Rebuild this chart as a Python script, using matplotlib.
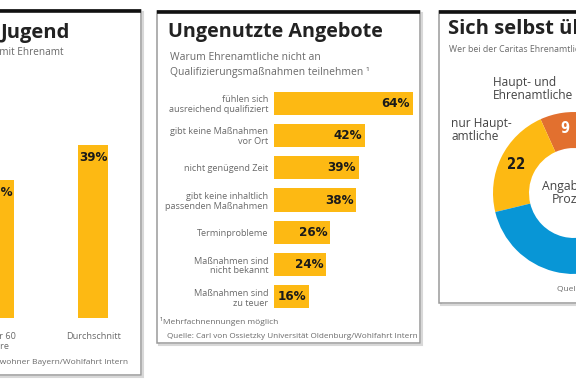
import matplotlib
matplotlib.use("Agg")
import numpy as np
import matplotlib.pyplot as plt
from matplotlib.patches import Rectangle

# === Daten ===
alter_kategorien = ["über 60\nJahre", "Durchschnitt"]
alter_werte = [31, 39]

gruende = [
    "fühlen sich\nausreichend qualifiziert",
    "gibt keine Maßnahmen\nvor Ort",
    "nicht genügend Zeit",
    "gibt keine inhaltlich\npassenden Maßnahmen",
    "Terminprobleme",
    "Maßnahmen sind\nnicht bekannt",
    "Maßnahmen sind\nzu teuer",
]
gruende_werte = [64, 42, 39, 38, 26, 24, 16]

angebot_gruppen = ["Haupt- und Ehrenamtliche", "nur Hauptamtliche", "nur Ehrenamtliche"]
angebot_werte = [9, 22, 69]

# === Stil ===
W, H = 576, 381
GELB = "#FDB913"
ORANGE = "#E2702F"
BLAU = "#0896D6"
GRAU = "#6a6a6a"
TITEL = ["Open Sans", "DejaVu Sans"]
TEXT = ["Open Sans", "DejaVu Sans"]
ZAHL = dict(family="DejaVu Sans", fontstretch="condensed", fontweight="bold")

fig = plt.figure(figsize=(W / 100, H / 100), dpi=100)
fig.patch.set_facecolor("white")

bg = fig.add_axes([0, 0, 1, 1])
bg.set_xlim(0, W)
bg.set_ylim(H, 0)
bg.axis("off")


def px_axes(x0, y0, x1, y1):
    return fig.add_axes([x0 / W, 1 - y1 / H, (x1 - x0) / W, (y1 - y0) / H])


def kasten(x0, y0, x1, y1):
    bg.add_patch(Rectangle((x0 + 1.5, y0 + 1.5), x1 - x0, y1 - y0, fc="none",
                           ec="#d8d8d8", lw=1.5, zorder=0))
    bg.add_patch(Rectangle((x0, y0), x1 - x0, y1 - y0, fc="white",
                           ec="#9a9a9a", lw=1.1, zorder=1))
    bg.plot([x0, x1], [y0 + 1, y0 + 1], color="#111111", lw=2.6,
            solid_capstyle="butt", zorder=2)


# --- Panel 1: Jugend ---
kasten(-10, 10, 141, 375)
bg.text(70, 33, "Jugend", ha="right", va="center", fontsize=14.5,
        fontweight="bold", family=TITEL, color="#222222")
bg.text(63, 53, "Anteil der Bevölkerung mit Ehrenamt", ha="right", va="center",
        fontsize=7.2, family=TEXT, color=GRAU)
bg.text(128, 363, "Quelle: Einwohner Bayern/Wohlfahrt Intern", ha="right",
        va="center", fontsize=6, family=TEXT, color=GRAU)

ax1 = px_axes(-30, 100, 141, 318)
x1 = np.arange(len(alter_werte))
ax1.bar(x1, alter_werte, width=30 / 94, color=GELB, zorder=3)
ax1.set_xlim(-29 / 94, -29 / 94 + 171 / 94)
ax1.set_ylim(0, 218 / (173 / 39))
ax1.axis("off")
for xi, v, lab in zip(x1, alter_werte, alter_kategorien):
    ax1.annotate(f"{v}%", (xi, v), xytext=(0, -4), textcoords="offset points",
                 ha="center", va="top", fontsize=9.5, color="#1a1a1a", **ZAHL)
    ax1.annotate(lab, (xi, 0), xytext=(0, -10), textcoords="offset points",
                 ha="center", va="top", fontsize=6.6, family=TEXT,
                 color=GRAU, annotation_clip=False, linespacing=1.1)

# --- Panel 2: Ungenutzte Angebote ---
kasten(157, 11, 420, 343)
bg.text(168, 32, "Ungenutzte Angebote", ha="left", va="center", fontsize=14.2,
        fontweight="bold", family=TITEL, color="#222222")
bg.text(170, 57, "Warum Ehrenamtliche nicht an", ha="left", va="center",
        fontsize=7.5, family=TEXT, color=GRAU)
bg.text(170, 73, "Qualifizierungsmaßnahmen teilnehmen ¹", ha="left",
        va="center", fontsize=7.5, family=TEXT, color=GRAU)
bg.text(160, 322, "¹Mehrfachnennungen möglich", ha="left", va="center",
        fontsize=6, family=TEXT, color=GRAU)
bg.text(418, 337, "Quelle: Carl von Ossietzky Universität Oldenburg/Wohlfahrt Intern",
        ha="right", va="center", fontsize=5.9, family=TEXT, color=GRAU)

ax2 = px_axes(274, 86, 416, 314)
y2 = np.arange(len(gruende_werte))
ax2.barh(y2, gruende_werte, height=23 / 32.33, color=GELB, zorder=3)
ax2.set_xlim(0, 142 / 2.17)
ax2.set_ylim(6.526, -0.526)
for s in ax2.spines.values():
    s.set_visible(False)
ax2.set_xticks([])
ax2.set_yticks(y2, gruende, fontsize=6.6, color=GRAU, family=TEXT,
               linespacing=1.1)
ax2.tick_params(axis="y", length=0, pad=4)
for yi, v in zip(y2, gruende_werte):
    ax2.annotate(f"{v}%", (v, yi), xytext=(-2, 0), textcoords="offset points",
                 ha="right", va="center", fontsize=9.5, color="#1a1a1a", **ZAHL)

# --- Panel 3: Sich selbst üben ---
kasten(439, 11, 600, 303)
bg.text(448, 29, "Sich selbst üben", ha="left", va="center", fontsize=14.5,
        fontweight="bold", family=TITEL, color="#222222")
bg.text(449, 50, "Wer bei der Caritas Ehrenamtliche qualifiziert", ha="left",
        va="center", fontsize=6.3, family=TEXT, color=GRAU)
bg.text(493, 89, "Haupt- und\nEhrenamtliche", ha="left", va="center",
        fontsize=8.6, family=TEXT, color="#444444", linespacing=1.0)
bg.text(451, 130, "nur Haupt-\namtliche", ha="left", va="center",
        fontsize=8.6, family=TEXT, color="#444444", linespacing=1.0)
bg.text(557, 290, "Quelle: Caritas", ha="left", va="center", fontsize=6,
        family=TEXT, color=GRAU)

R = 81
ax3 = px_axes(574 - 90, 193 - 90, 574 + 90, 193 + 90)
ax3.pie(angebot_werte, colors=[ORANGE, GELB, BLAU], startangle=82,
        counterclock=True, wedgeprops=dict(width=36 / R, linewidth=0))
ax3.set_xlim(-90 / R, 90 / R)
ax3.set_ylim(-90 / R, 90 / R)
ax3.set_aspect("equal")
ax3.axis("off")
start = 82
for i, v in enumerate(angebot_werte[:2]):
    mid = np.deg2rad(start + v * 3.6 / 2)
    start += v * 3.6
    ax3.text(0.8 * np.cos(mid), 0.8 * np.sin(mid), str(v), ha="center",
             va="center", fontsize=10.5,
             color="white" if i == 0 else "#1a1a1a", **ZAHL)
ax3.text(0, 0, "Angaben in\nProzent", ha="center", va="center",
         fontsize=8.8, family=TEXT, color="#444444", linespacing=1.05)

fig.savefig("out.png", dpi=100)
